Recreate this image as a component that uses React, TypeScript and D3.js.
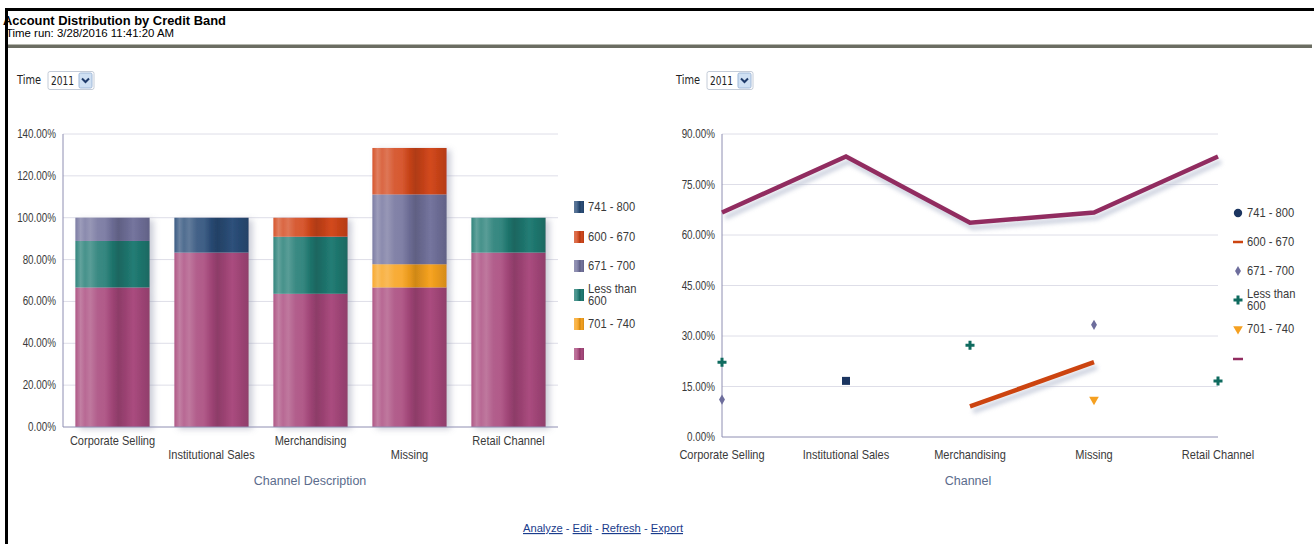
import * as d3 from "d3";

// ---- data ----
const channels = ["Corporate Selling", "Institutional Sales", "Merchandising", "Missing", "Retail Channel"];
// legend order (top to bottom)
const bandNames = ["741 - 800", "600 - 670", "671 - 700", "Less than 600", "701 - 740", ""];
const band741to800 = [null, 16.67, null, null, null];
const band600to670 = [null, null, 9.09, 22.22, null];
const band671to700 = [11.11, null, null, 33.33, null];
const bandLess600 = [22.22, null, 27.27, null, 16.67];
const band701to740 = [null, null, null, 11.11, null];
const bandBlank = [66.67, 83.33, 63.64, 66.67, 83.33];
const leftTicks = [0, 20, 40, 60, 80, 100, 120, 140];
const rightTicks = [0, 15, 30, 45, 60, 75, 90];
const timeValue = "2011";

const seriesValues: (number | null)[][] = [band741to800, band600to670, band671to700, bandLess600, band701to740, bandBlank];

// styles
const barColors = ["#2a4d78", "#d2461a", "#72729c", "#1f7a72", "#f7a21d", "#a8487c"];
const lineColors = ["#1b3560", "#cc4410", "#6d6d9c", "#0f6b5f", "#f5a020", "#912c60"];
const markerKind = ["square", "line", "diamond", "plus", "triangle", "line"];

const FONT = "'Liberation Sans', Arial, sans-serif";
const GRID = "#dedee8";
const AXIS = "#8e8eb2";
const TXT = "#3a3a3a";

const stripes: [number, number][] = [
  [0, 0.08], [0.07, 0.3], [0.13, 0.18], [0.2, 0.26], [0.3, 0.12], [0.4, 0.1],
  [0.5, -0.06], [0.58, -0.16], [0.68, -0.08], [0.78, 0.02], [0.88, -0.06], [1, -0.14],
];
function shade(c: string, t: number) {
  return t >= 0 ? d3.interpolateRgb(c, "#ffffff")(t) : d3.interpolateRgb(c, "#000000")(-t);
}

// narrow text: squeezed horizontally around its anchor point
function NText({ x, y, size = 12, sx = 0.92, anchor = "start", fill = TXT, children }: any) {
  return (
    <text transform={`translate(${x},${y}) scale(${sx},1)`} textAnchor={anchor} fontFamily={FONT} fontSize={size} fill={fill}>
      {children}
    </text>
  );
}

function Select({ x, y }: { x: number; y: number }) {
  return (
    <g>
      <text x={x} y={y + 14} fontFamily="'DejaVu Sans Condensed', 'Liberation Sans', sans-serif" fontSize={11.5} fill="#222" textLength={24} lengthAdjust="spacingAndGlyphs">Time</text>
      <rect x={x + 31} y={y + 1.5} width={46} height={18} rx={2} fill="#fff" stroke="#c4ccd8" />
      <text x={x + 34} y={y + 14.5} fontFamily="'DejaVu Sans Condensed', 'Liberation Sans', sans-serif" fontSize={11.5} fill="#222" textLength={23} lengthAdjust="spacingAndGlyphs">{timeValue}</text>
      <rect x={x + 62} y={y + 3} width={13} height={15} rx={1.5} fill="#cfe0f3" stroke="#9fb8d8" />
      <path d={`M${x + 65},${y + 8.5} L${x + 68.5},${y + 12} L${x + 72},${y + 8.5}`} fill="none" stroke="#1e3a6a" strokeWidth={2} />
    </g>
  );
}

function BarChart() {
  const left = 63, right = 558, top = 134, bottom = 427;
  const x = d3.scaleBand<string>().domain(channels).range([left, right]).paddingInner(0.25).paddingOuter(0.125);
  const y = d3.scaleLinear().domain([0, 140]).range([bottom, top]);

  const stackKeys = bandNames.map((_, i) => i).reverse();
  const rows = channels.map((c, ci) => {
    const r: Record<string, number> = {};
    stackKeys.forEach((k) => (r[k] = seriesValues[k][ci] ?? 0));
    return r;
  });
  const stacked = d3.stack<Record<string, number>>().keys(stackKeys.map(String))(rows);

  return (
    <g>
      <defs>
        {barColors.map((c, i) => (
          <linearGradient key={i} id={`barGrad${i}`} x1="0" x2="1" y1="0" y2="0">
            {stripes.map(([o, t], j) => (
              <stop key={j} offset={o} stopColor={shade(c, t)} />
            ))}
          </linearGradient>
        ))}
        <filter id="barShadow" x="-20%" y="-10%" width="150%" height="120%">
          <feDropShadow dx={4} dy={2} stdDeviation={3} floodColor="#8c90a8" floodOpacity={0.45} />
        </filter>
      </defs>
      {leftTicks.map((t) => (
        <g key={t}>
          {t > 0 && <line x1={left} x2={right} y1={y(t)} y2={y(t)} stroke={GRID} />}
          <NText x={left - 7} y={y(t) + 4} size={12} sx={0.82} anchor="end">
            {t.toFixed(2)}%
          </NText>
        </g>
      ))}
      <g filter="url(#barShadow)">
        {channels.map((c, ci) => (
          <g key={c}>
            {stacked.map((s) => {
              const [y0, y1] = s[ci];
              if (y1 - y0 <= 0) return null;
              return (
                <rect key={s.key} x={x(c)} width={x.bandwidth()} y={y(y1)} height={y(y0) - y(y1)} fill={`url(#barGrad${s.key})`} />
              );
            })}
          </g>
        ))}
      </g>
      <line x1={left} x2={left} y1={top} y2={bottom} stroke={AXIS} />
      <line x1={left} x2={right} y1={bottom} y2={bottom} stroke={AXIS} />
      {channels.map((c, i) => (
        <NText key={c} x={(x(c) ?? 0) + x.bandwidth() / 2} y={i % 2 === 0 ? 445 : 459} anchor="middle">
          {c}
        </NText>
      ))}
      <text x={310} y={485} textAnchor="middle" fontFamily={FONT} fontSize={12.5} fill="#5b6c8c">Channel Description</text>
      {bandNames.map((b, i) => {
        const cy = [207, 237, 266, 295, 324, 354][i];
        const lines = b === "Less than 600" ? ["Less than", "600"] : [b];
        return (
          <g key={i}>
            <rect x={574} y={cy - 6} width={10} height={12} fill={`url(#barGrad${i})`} />
            {lines.map((l, j) => (
              <NText key={j} x={588} y={cy + 4 + (lines.length > 1 ? (j - 0.5) * 12 : 0)} sx={0.93}>
                {l}
              </NText>
            ))}
          </g>
        );
      })}
    </g>
  );
}

function Marker({ kind, cx, cy, color, legend }: { kind: string; cx: number; cy: number; color: string; legend?: boolean }) {
  if (kind === "square") {
    if (legend) return <path d={d3.symbol(d3.symbolCircle, 55)() ?? ""} transform={`translate(${cx},${cy})`} fill={color} />;
    return <rect x={cx - 4} y={cy - 4} width={8} height={8} fill={color} />;
  }
  if (kind === "diamond") return <path d={d3.symbol(d3.symbolDiamond, 30)() ?? ""} transform={`translate(${cx},${cy})`} fill={color} />;
  if (kind === "plus") return <path d={d3.symbol(d3.symbolCross, 45)() ?? ""} transform={`translate(${cx},${cy})`} fill={color} />;
  if (kind === "triangle")
    return <path d={d3.symbol(d3.symbolTriangle, 40)() ?? ""} transform={`translate(${cx},${cy}) rotate(180)`} fill={color} />;
  return <line x1={cx - 5} x2={cx + 5} y1={cy} y2={cy} stroke={color} strokeWidth={2.5} />;
}

function LineChart() {
  const left = 722, right = 1218, top = 134, bottom = 437;
  const x = d3.scalePoint<string>().domain(channels).range([left, right]);
  const y = d3.scaleLinear().domain([0, 90]).range([bottom, top]);
  const line = d3
    .line<number | null>()
    .defined((d) => d != null)
    .x((_, i) => x(channels[i]) ?? 0)
    .y((d) => y(d ?? 0));

  return (
    <g>
      <defs>
        <filter id="lineShadow" x="-10%" y="-30%" width="120%" height="160%">
          <feGaussianBlur stdDeviation={2.2} />
        </filter>
      </defs>
      {rightTicks.map((t) => (
        <g key={t}>
          {t > 0 && <line x1={left} x2={right} y1={y(t)} y2={y(t)} stroke={GRID} />}
          <NText x={left - 7} y={y(t) + 4} size={12} sx={0.82} anchor="end">
            {t.toFixed(2)}%
          </NText>
        </g>
      ))}
      <line x1={left} x2={left} y1={top} y2={bottom} stroke={AXIS} />
      <line x1={left} x2={right} y1={bottom} y2={bottom} stroke={AXIS} />
      {seriesValues.map((vals, si) =>
        markerKind[si] === "line" ? (
          <g key={si}>
            <path d={line(vals) ?? ""} transform="translate(3,5)" fill="none" stroke="#b8bfd2" strokeWidth={5} opacity={0.7} filter="url(#lineShadow)" />
            <path d={line(vals) ?? ""} fill="none" stroke={lineColors[si]} strokeWidth={4.5} strokeLinejoin="miter" />
          </g>
        ) : (
          <g key={si}>
            {vals.map((v, ci) =>
              v == null ? null : <Marker key={ci} kind={markerKind[si]} cx={x(channels[ci]) ?? 0} cy={y(v)} color={lineColors[si]} />
            )}
          </g>
        )
      )}
      {channels.map((c) => (
        <NText key={c} x={x(c)} y={459} anchor="middle">
          {c}
        </NText>
      ))}
      <text x={968} y={485} textAnchor="middle" fontFamily={FONT} fontSize={12.5} fill="#5b6c8c">Channel</text>
      {bandNames.map((b, i) => {
        const cy = [213, 242, 271, 300, 329, 359][i];
        const lines = b === "Less than 600" ? ["Less than", "600"] : [b];
        return (
          <g key={i}>
            <Marker kind={markerKind[i]} cx={1238} cy={cy} color={lineColors[i]} legend />
            {lines.map((l, j) => (
              <NText key={j} x={1247} y={cy + 4 + (lines.length > 1 ? (j - 0.5) * 12 : 0)} sx={0.93}>
                {l}
              </NText>
            ))}
          </g>
        );
      })}
    </g>
  );
}

export default function App() {
  const linkFont = "'Liberation Sans', sans-serif";
  return (
    <div style={{ position: "fixed", left: 0, top: 0, width: 1314, height: 544, background: "#fff", overflow: "hidden" }}>
      <svg width={1314} height={544}>
        <rect width={1314} height={544} fill="#fff" />
        <text x={3} y={25} fontFamily="'Liberation Sans', sans-serif" fontWeight="bold" fontSize={12.5} fill="#000" textLength={223} lengthAdjust="spacingAndGlyphs">
          Account Distribution by Credit Band
        </text>
        <text x={6} y={37} fontFamily="'Liberation Sans', sans-serif" fontSize={11} fill="#000" textLength={168} lengthAdjust="spacingAndGlyphs">
          Time run: 3/28/2016 11:41:20 AM
        </text>
        <rect x={6} y={8} width={1308} height={3} fill="#000" />
        <rect x={5} y={8} width={3} height={536} fill="#000" />
        <rect x={8} y={45} width={1304} height={3} fill="#6b6d62" />
        <rect x={8} y={44} width={1304} height={1} fill="#b5b7ae" />
        <Select x={17} y={70} />
        <Select x={676} y={70} />
        <BarChart />
        <LineChart />
        <text x={523} y={532} fontFamily={linkFont} fontSize={11.5} fill="#1a3c8c" textLength={160} lengthAdjust="spacingAndGlyphs">
          <tspan textDecoration="underline">Analyze</tspan>
          <tspan> - </tspan>
          <tspan textDecoration="underline">Edit</tspan>
          <tspan> - </tspan>
          <tspan textDecoration="underline">Refresh</tspan>
          <tspan> - </tspan>
          <tspan textDecoration="underline">Export</tspan>
        </text>
      </svg>
    </div>
  );
}
